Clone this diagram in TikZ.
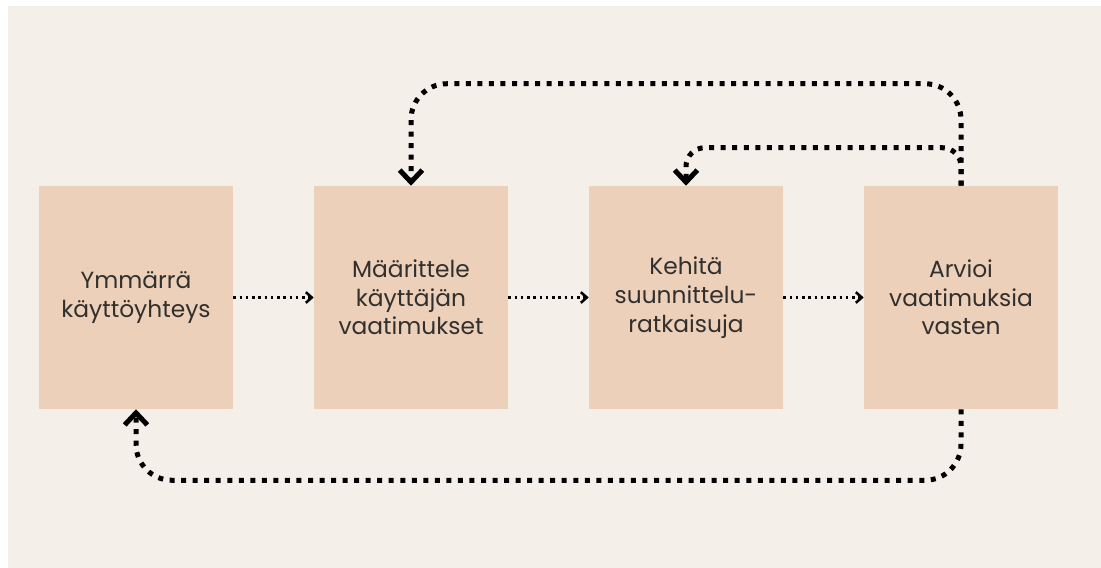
\documentclass[tikz,border=0pt]{standalone}
\usepackage{fontspec}
\setmainfont{Poppins}
\usetikzlibrary{positioning, arrows.meta}
\definecolor{paper}{RGB}{244,239,233}
\definecolor{sand}{RGB}{236,208,185}
\definecolor{ink}{RGB}{50,48,46}
\tikzset{
  node distance=206.25pt,
  phase/.style={rectangle, fill=sand, minimum width=145.5pt, minimum height=167.25pt,
    align=center, text=ink, font=\fontsize{17.5}{21.5}\selectfont},
  flow/.style={-{Straight Barb[length=4.5pt,width=8pt]}, line width=1.9pt,
    dash pattern=on 1.9pt off 2.8pt, black},
  loopback/.style={-{Straight Barb[length=9pt,width=17pt]}, line width=3.75pt,
    dash pattern=on 3.75pt off 4.9pt, black},
}

\begin{document}
\begin{tikzpicture}[x=0.75pt, y=-0.75pt]
      \fill[white] (0,0) rectangle (1101,568);
      \fill[paper] (8,6) rectangle (1101,568);
      \useasboundingbox (0,0) rectangle (1101,568);

      \node[phase] (understand) at (136,297.5) {Ymmärrä\\käyttöyhteys};
      \node[phase,right of=understand] (specify) {Määrittele\\käyttäjän\\vaatimukset};
      \node[phase,right of=specify] (design) {Kehitä\\suunnittelu-\\ratkaisuja};
      \node[phase,right of=design] (evaluate) {Arvioi\\vaatimuksia\\vasten};

      \draw[flow] (understand) edge (specify)
                  (specify) edge (design)
                  (design) edge (evaluate);

      % iterate back
      \draw[loopback, rounded corners=27] (evaluate.north) -- ++(0,-102) -| (specify.north);
      \draw[loopback, rounded corners=14] (evaluate.north) -- ++(0,-38) -| (design.north);
      \draw[loopback, rounded corners=27] (evaluate.south) -- ++(0,71) -| (understand.south);
    \end{tikzpicture}
\end{document}
